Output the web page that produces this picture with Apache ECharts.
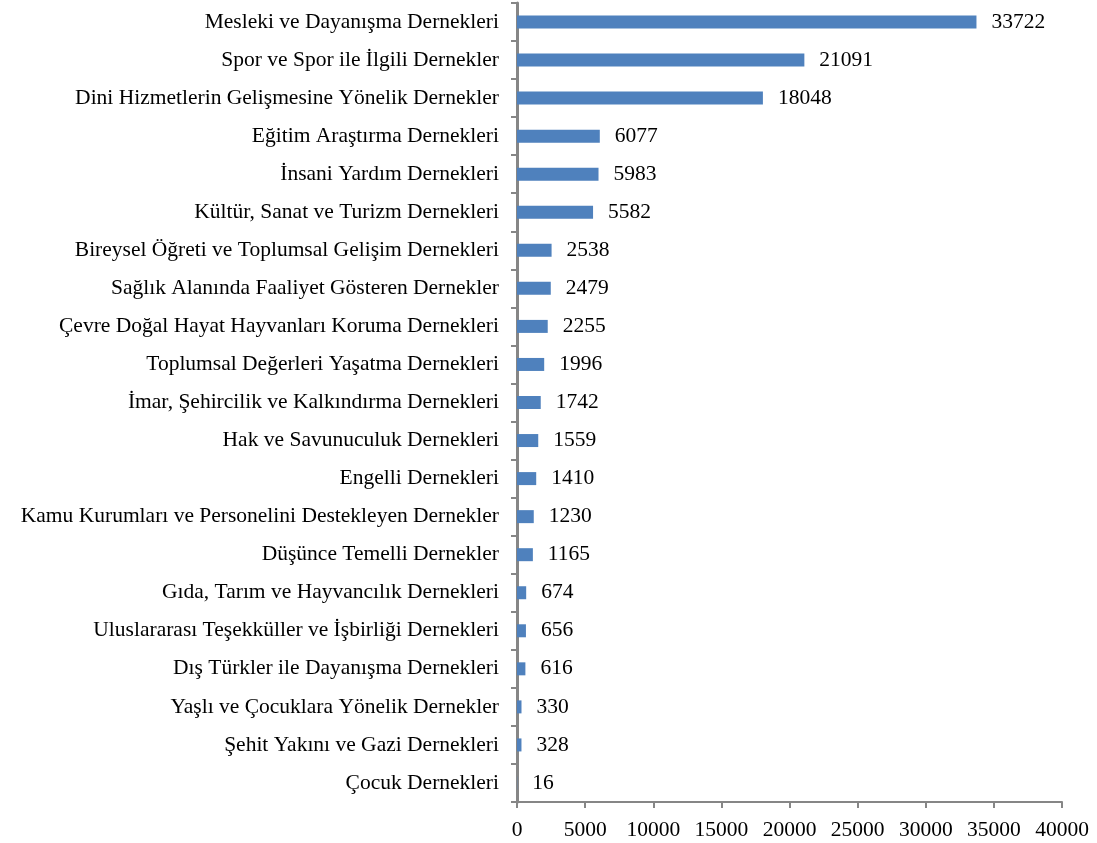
<!DOCTYPE html>
<html><head><meta charset="utf-8">
<script src="https://cdn.jsdelivr.net/npm/echarts@6/dist/echarts.min.js"></script>
<style>html,body{margin:0;padding:0;background:#fff}#c{width:1097px;height:843px}</style>
</head><body><div id="c"></div>
<script>
const categories = [
"Mesleki ve Dayanışma Dernekleri",
"Spor ve Spor ile İlgili Dernekler",
"Dini Hizmetlerin Gelişmesine Yönelik Dernekler",
"Eğitim Araştırma Dernekleri",
"İnsani Yardım Dernekleri",
"Kültür, Sanat ve Turizm Dernekleri",
"Bireysel Öğreti ve Toplumsal Gelişim Dernekleri",
"Sağlık Alanında Faaliyet Gösteren Dernekler",
"Çevre Doğal Hayat Hayvanları Koruma Dernekleri",
"Toplumsal Değerleri Yaşatma Dernekleri",
"İmar, Şehircilik ve Kalkındırma Dernekleri",
"Hak ve Savunuculuk Dernekleri",
"Engelli Dernekleri",
"Kamu Kurumları ve Personelini Destekleyen Dernekler",
"Düşünce Temelli Dernekler",
"Gıda, Tarım ve Hayvancılık Dernekleri",
"Uluslararası Teşekküller ve İşbirliği Dernekleri",
"Dış Türkler ile Dayanışma Dernekleri",
"Yaşlı ve Çocuklara Yönelik Dernekler",
"Şehit Yakını ve Gazi Dernekleri",
"Çocuk Dernekleri"
];
const values = [33722,21091,18048,6077,5983,5582,2538,2479,2255,1996,1742,1559,1410,1230,1165,674,656,616,330,328,16];

const font = '"Liberation Serif","Times New Roman",serif';
const chart = echarts.init(document.getElementById('c'));
chart.setOption({
  animation:false,
  grid:{left:517,right:35,top:3,bottom:41,containLabel:false},
  xAxis:{type:'value',min:0,max:40000,interval:5000,
    axisLine:{show:true,lineStyle:{color:'#868686',width:2}},
    axisTick:{show:true,length:6,lineStyle:{color:'#868686',width:2}},
    splitLine:{show:false},
    axisLabel:{fontFamily:font,fontSize:21.5,color:'#000',margin:17,formatter:v=>String(v)}},
  yAxis:{type:'category',data:categories,inverse:true,
    axisLine:{show:true,lineStyle:{color:'#868686',width:3}},
    axisTick:{show:true,length:6,lineStyle:{color:'#868686',width:2}},
    axisLabel:{fontFamily:font,fontSize:21.5,color:'#000',margin:18}},
  series:[{type:'bar',data:values,barWidth:13,
    itemStyle:{color:'#4F81BD'},
    label:{show:true,position:'right',distance:15,fontFamily:font,fontSize:21.5,color:'#000'}}]
});
</script></body></html>
